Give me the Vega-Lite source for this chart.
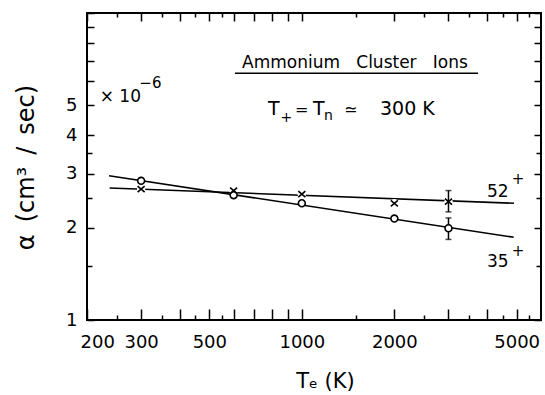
{
  "$schema": "https://vega.github.io/schema/vega-lite/v6.json",
  "width": 454,
  "height": 307,
  "autosize": "none",
  "padding": {"left": 87, "top": 13, "right": 4, "bottom": 75},
  "background": "white",
  "config": {
    "view": {"stroke": "#000", "strokeWidth": 2},
    "font": "DejaVu Sans",
    "text": {"fill": "#000", "font": "DejaVu Sans"},
    "axis": {
      "domain": false, "grid": false, "labelFont": "DejaVu Sans", "labelColor": "#000",
      "tickColor": "#000", "tickWidth": 1.5, "titleColor": "#000", "titleFont": "DejaVu Sans",
      "titleFontWeight": "normal", "labelOverlap": false
    }
  },
  "datasets": {
    "fits": [
      {"ion": "52+", "T": 237, "alpha": 2.69}, {"ion": "52+", "T": 4900, "alpha": 2.40},
      {"ion": "35+", "T": 236, "alpha": 2.95}, {"ion": "35+", "T": 4890, "alpha": 1.86}
    ],
    "pts": [
      {"ion": "52+", "T": 300, "alpha": 2.67}, {"ion": "52+", "T": 600, "alpha": 2.64},
      {"ion": "52+", "T": 1000, "alpha": 2.57}, {"ion": "52+", "T": 2000, "alpha": 2.40},
      {"ion": "52+", "T": 3000, "alpha": 2.43},
      {"ion": "35+", "T": 300, "alpha": 2.84}, {"ion": "35+", "T": 600, "alpha": 2.55},
      {"ion": "35+", "T": 1000, "alpha": 2.40}, {"ion": "35+", "T": 2000, "alpha": 2.14},
      {"ion": "35+", "T": 3000, "alpha": 1.99}
    ],
    "errs": [
      {"ion": "52+", "T": 3000, "lo": 2.25, "hi": 2.64},
      {"ion": "35+", "T": 3000, "lo": 1.83, "hi": 2.15}
    ],
    "notes": [
      {"id": "title", "text": "Ammonium\u00a0\u00a0\u00a0Cluster\u00a0\u00a0\u00a0Ions", "T": 1489, "alpha": 6.61},
      {"id": "cond", "text": "T", "T": 776, "alpha": 4.65},
      {"id": "sub", "text": "+", "T": 852, "alpha": 4.42},
      {"id": "op", "text": "=", "T": 950, "alpha": 4.65},
      {"id": "cond", "text": "T", "T": 1087, "alpha": 4.65},
      {"id": "sub", "text": "n", "T": 1181, "alpha": 4.48},
      {"id": "op", "text": "≃", "T": 1372, "alpha": 4.65},
      {"id": "cond", "text": "300 K", "T": 1796, "alpha": 4.65},
      {"id": "mult", "text": "× 10", "T": 220, "alpha": 5.14},
      {"id": "exp", "text": "−6", "T": 296, "alpha": 5.68},
      {"id": "ion", "text": "52", "T": 4004, "alpha": 2.52},
      {"id": "ion", "text": "35", "T": 4004, "alpha": 1.488},
      {"id": "plus", "text": "+", "T": 4820, "alpha": 2.77},
      {"id": "plus", "text": "+", "T": 4820, "alpha": 1.616}
    ],
    "underline": [{"T": 606, "T2": 3742, "alpha": 6.36}]
  },
  "layer": [
    {
      "data": {"name": "fits"},
      "mark": {"type": "line", "color": "#000", "strokeWidth": 1.6},
      "encoding": {
        "x": {
          "field": "T", "type": "quantitative",
          "scale": {"type": "log", "domain": [200, 6000], "nice": false},
          "axis": {
            "orient": "bottom",
            "values": [200,250,300,350,400,450,500,550,600,700,800,900,1000,1500,2000,2500,3000,3500,4000,4500,5000,5500],
            "labelExpr": "indexof([200,300,500,1000,2000,5000], datum.value) >= 0 ? '' + datum.value : ''",
            "tickSize": {"condition": {"test": "indexof([250,350,450,550,1500,2500,3500,4500,5500], datum.value) >= 0", "value": -5}, "value": -11},
            "labelPadding": 24, "labelFontSize": 18, "labelFlush": true, "labelFlushOffset": 7,
            "title": "Tₑ (K)", "titleFontSize": 21, "titleX": 238, "titleY": 67,
            "titleBaseline": "alphabetic", "titleAlign": "center"
          }
        },
        "y": {
          "field": "alpha", "type": "quantitative",
          "scale": {"type": "log", "domain": [1, 10], "nice": false},
          "axis": {
            "orient": "left",
            "values": [1,1.5,2,2.5,3,3.5,4,5,6,7,8,9,10],
            "labelExpr": "indexof([1,2,3,4,5], datum.value) >= 0 ? '' + datum.value : ''",
            "tickSize": {"condition": {"test": "indexof([1.5,2.5,3.5], datum.value) >= 0", "value": -5}, "value": -7},
            "labelPadding": 17, "labelFontSize": 18,
            "title": "α\u2002(cm³\u2002/\u2002sec)", "titleFontSize": 24, "titleX": -53.5, "titleY": 154,
            "titleBaseline": "alphabetic", "titleAlign": "center", "titleAngle": -90
          }
        },
        "detail": {"field": "ion"}
      }
    },
    {
      "data": {"name": "pts"},
      "transform": [{"filter": "datum.ion == '52+'"}],
      "mark": {"type": "point", "shape": "circle", "filled": true, "color": "white", "size": 70, "opacity": 1},
      "encoding": {
        "x": {
          "field": "T", "type": "quantitative",
          "scale": {"type": "log", "domain": [200, 6000], "nice": false},
          "axis": {
            "orient": "top", "labels": false, "title": null,
            "values": [200,250,300,350,400,450,500,550,600,700,800,900,1000,1500,2000,2500,3000,3500,4000,4500,5000,5500],
            "tickSize": {"condition": {"test": "indexof([250,350,450,550,1500,2500,3500,4500,5500], datum.value) >= 0", "value": -4}, "value": -8}
          }
        },
        "y": {
          "field": "alpha", "type": "quantitative",
          "scale": {"type": "log", "domain": [1, 10], "nice": false},
          "axis": {
            "orient": "right", "labels": false, "title": null,
            "values": [1,1.5,2,2.5,3,3.5,4,5,6,7,8,9,10],
            "tickSize": {"condition": {"test": "indexof([1.5,2.5,3.5], datum.value) >= 0", "value": -5}, "value": -7}
          }
        }
      }
    },
    {
      "data": {"name": "errs"},
      "mark": {"type": "rule", "color": "#000", "strokeWidth": 1.5},
      "encoding": {
        "x": {"field": "T", "type": "quantitative", "scale": {"type": "log", "domain": [200, 6000], "nice": false}, "axis": null},
        "y": {"field": "lo", "type": "quantitative", "scale": {"type": "log", "domain": [1, 10], "nice": false}, "axis": null},
        "y2": {"field": "hi"}
      }
    },
    {
      "data": {"name": "errs"},
      "mark": {"type": "tick", "orient": "horizontal", "color": "#000", "size": 6, "thickness": 1.5},
      "encoding": {
        "x": {"field": "T", "type": "quantitative", "scale": {"type": "log", "domain": [200, 6000], "nice": false}, "axis": null},
        "y": {"field": "lo", "type": "quantitative", "scale": {"type": "log", "domain": [1, 10], "nice": false}, "axis": null}
      }
    },
    {
      "data": {"name": "errs"},
      "mark": {"type": "tick", "orient": "horizontal", "color": "#000", "size": 6, "thickness": 1.5},
      "encoding": {
        "x": {"field": "T", "type": "quantitative", "scale": {"type": "log", "domain": [200, 6000], "nice": false}, "axis": null},
        "y": {"field": "hi", "type": "quantitative", "scale": {"type": "log", "domain": [1, 10], "nice": false}, "axis": null}
      }
    },
    {
      "data": {"name": "pts"},
      "transform": [{"filter": "datum.ion == '35+'"}],
      "mark": {"type": "point", "shape": "circle", "filled": false, "fill": "white", "fillOpacity": 1, "stroke": "#000", "strokeWidth": 1.6, "size": 48, "opacity": 1},
      "encoding": {
        "x": {"field": "T", "type": "quantitative", "scale": {"type": "log", "domain": [200, 6000], "nice": false}, "axis": null},
        "y": {"field": "alpha", "type": "quantitative", "scale": {"type": "log", "domain": [1, 10], "nice": false}, "axis": null}
      }
    },
    {
      "data": {"name": "pts"},
      "transform": [{"filter": "datum.ion == '52+'"}],
      "mark": {"type": "point", "shape": "M-1,-0.85L1,0.85M-1,0.85L1,-0.85", "filled": false, "stroke": "#000", "strokeWidth": 1.6, "size": 50, "opacity": 1},
      "encoding": {
        "x": {"field": "T", "type": "quantitative", "scale": {"type": "log", "domain": [200, 6000], "nice": false}, "axis": null},
        "y": {"field": "alpha", "type": "quantitative", "scale": {"type": "log", "domain": [1, 10], "nice": false}, "axis": null}
      }
    },
    {
      "data": {"name": "underline"},
      "mark": {"type": "rule", "color": "#000", "strokeWidth": 1.5},
      "encoding": {
        "x": {"field": "T", "type": "quantitative", "scale": {"type": "log", "domain": [200, 6000], "nice": false}, "axis": null},
        "x2": {"field": "T2"},
        "y": {"field": "alpha", "type": "quantitative", "scale": {"type": "log", "domain": [1, 10], "nice": false}, "axis": null}
      }
    },
    {
      "data": {"name": "notes"},
      "transform": [{"filter": "datum.id == 'title'"}],
      "mark": {"type": "text", "align": "center", "baseline": "alphabetic", "fontSize": 17, "fill": "#000"},
      "encoding": {
        "x": {"field": "T", "type": "quantitative", "scale": {"type": "log", "domain": [200, 6000], "nice": false}, "axis": null},
        "y": {"field": "alpha", "type": "quantitative", "scale": {"type": "log", "domain": [1, 10], "nice": false}, "axis": null},
        "text": {"field": "text"}
      }
    },
    {
      "data": {"name": "notes"},
      "transform": [{"filter": "datum.id == 'cond'"}],
      "mark": {"type": "text", "align": "left", "baseline": "alphabetic", "fontSize": 19, "fill": "#000"},
      "encoding": {
        "x": {"field": "T", "type": "quantitative", "scale": {"type": "log", "domain": [200, 6000], "nice": false}, "axis": null},
        "y": {"field": "alpha", "type": "quantitative", "scale": {"type": "log", "domain": [1, 10], "nice": false}, "axis": null},
        "text": {"field": "text"}
      }
    },
    {
      "data": {"name": "notes"},
      "transform": [{"filter": "datum.id == 'op'"}],
      "mark": {"type": "text", "align": "left", "baseline": "alphabetic", "fontSize": 16, "fill": "#000"},
      "encoding": {
        "x": {"field": "T", "type": "quantitative", "scale": {"type": "log", "domain": [200, 6000], "nice": false}, "axis": null},
        "y": {"field": "alpha", "type": "quantitative", "scale": {"type": "log", "domain": [1, 10], "nice": false}, "axis": null},
        "text": {"field": "text"}
      }
    },
    {
      "data": {"name": "notes"},
      "transform": [{"filter": "datum.id == 'sub'"}],
      "mark": {"type": "text", "align": "left", "baseline": "alphabetic", "fontSize": 14, "fill": "#000"},
      "encoding": {
        "x": {"field": "T", "type": "quantitative", "scale": {"type": "log", "domain": [200, 6000], "nice": false}, "axis": null},
        "y": {"field": "alpha", "type": "quantitative", "scale": {"type": "log", "domain": [1, 10], "nice": false}, "axis": null},
        "text": {"field": "text"}
      }
    },
    {
      "data": {"name": "notes"},
      "transform": [{"filter": "datum.id == 'mult' || datum.id == 'ion'"}],
      "mark": {"type": "text", "align": "left", "baseline": "alphabetic", "fontSize": 17, "fill": "#000"},
      "encoding": {
        "x": {"field": "T", "type": "quantitative", "scale": {"type": "log", "domain": [200, 6000], "nice": false}, "axis": null},
        "y": {"field": "alpha", "type": "quantitative", "scale": {"type": "log", "domain": [1, 10], "nice": false}, "axis": null},
        "text": {"field": "text"}
      }
    },
    {
      "data": {"name": "notes"},
      "transform": [{"filter": "datum.id == 'exp' || datum.id == 'plus'"}],
      "mark": {"type": "text", "align": "left", "baseline": "alphabetic", "fontSize": 15, "fill": "#000"},
      "encoding": {
        "x": {"field": "T", "type": "quantitative", "scale": {"type": "log", "domain": [200, 6000], "nice": false}, "axis": null},
        "y": {"field": "alpha", "type": "quantitative", "scale": {"type": "log", "domain": [1, 10], "nice": false}, "axis": null},
        "text": {"field": "text"}
      }
    }
  ],
  "resolve": {"axis": {"x": "independent", "y": "independent"}}
}
